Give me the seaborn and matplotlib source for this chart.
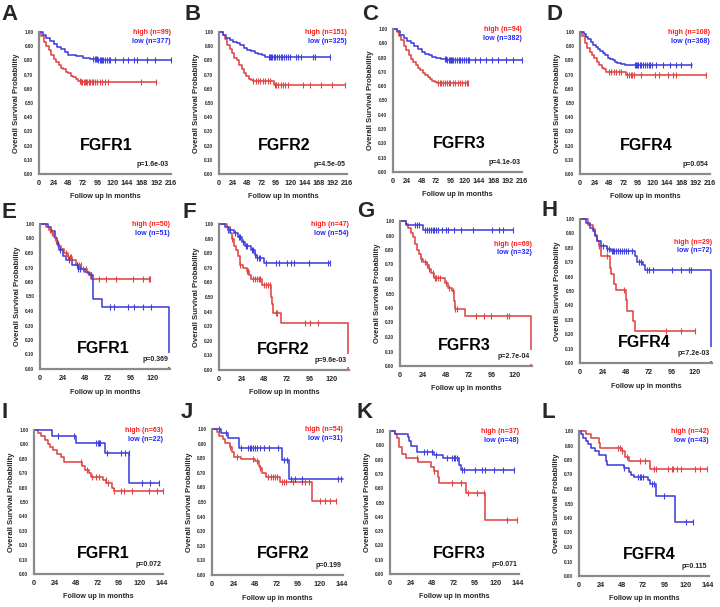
import numpy as np
import matplotlib
matplotlib.use("Agg")
import matplotlib.pyplot as plt
import seaborn as sns

# ---- panel labels / annotations ----
letters = ["A", "B", "C", "D", "E", "F", "G", "H", "I", "J", "K", "L"]
genes = ["FGFR1", "FGFR2", "FGFR3", "FGFR4"] * 3
n_high = [99, 151, 94, 108, 50, 47, 69, 29, 63, 54, 37, 42]
n_low = [377, 325, 382, 368, 51, 54, 32, 72, 22, 31, 48, 43]
p_values = ["p=1.6e-03", "p=4.5e-05", "p=4.1e-03", "p=0.054",
            "p=0.369", "p=9.6e-03", "p=2.7e-04", "p=7.2e-03",
            "p=0.072", "p=0.199", "p=0.071", "p=0.115"]

# ---- Kaplan-Meier step data (time in months, survival after step) ----
a_hi_t = [0, 4, 8, 12, 16, 20, 24, 28, 32, 36, 40, 44, 48, 52, 56, 60, 64, 68, 192]
a_hi_s = [1, 0.97, 0.93, 0.90, 0.87, 0.84, 0.81, 0.79, 0.77, 0.75, 0.74, 0.72, 0.71, 0.69, 0.68, 0.67, 0.655, 0.645, 0.645]
a_hi_c = [67, 69, 71, 73, 75, 77, 79, 81, 84, 86, 89, 92, 95, 99, 103, 108, 113, 167, 192]
a_lo_t = [0, 6, 12, 18, 24, 30, 36, 42, 48, 54, 60, 72, 84, 96, 216]
a_lo_s = [1, 0.98, 0.955, 0.935, 0.915, 0.895, 0.88, 0.86, 0.84, 0.835, 0.83, 0.82, 0.81, 0.80, 0.80]
a_lo_c = [89, 91, 93, 95, 97, 99, 101, 103, 105, 108, 111, 114, 116, 124, 137, 146, 155, 161, 176, 190, 216]

b_hi_t = [0, 6, 10, 14, 18, 22, 26, 30, 34, 38, 42, 46, 50, 54, 58, 88, 92, 212]
b_hi_s = [1, 0.98, 0.95, 0.91, 0.88, 0.85, 0.82, 0.80, 0.77, 0.74, 0.71, 0.69, 0.67, 0.66, 0.655, 0.655, 0.625, 0.625]
b_hi_c = [58, 62, 66, 70, 74, 78, 82, 86, 94, 97, 100, 104, 108, 112, 116, 141, 153, 172, 191, 212]
b_lo_t = [0, 6, 12, 18, 24, 30, 36, 42, 48, 54, 60, 66, 72, 78, 188]
b_lo_s = [1, 0.98, 0.96, 0.945, 0.93, 0.92, 0.905, 0.89, 0.875, 0.865, 0.855, 0.845, 0.835, 0.825, 0.825]
b_lo_c = [84, 86, 88, 90, 92, 95, 98, 101, 104, 107, 110, 113, 116, 119, 130, 134, 138, 158, 162, 188]

c_hi_t = [0, 6, 10, 14, 18, 22, 26, 30, 34, 38, 42, 46, 50, 54, 58, 62, 66, 70, 74, 126]
c_hi_s = [1, 0.98, 0.95, 0.92, 0.88, 0.85, 0.82, 0.79, 0.77, 0.75, 0.73, 0.71, 0.69, 0.68, 0.665, 0.65, 0.635, 0.63, 0.62, 0.62]
c_hi_c = [76, 78, 81, 84, 87, 90, 93, 96, 100, 104, 108, 112, 116, 120, 124, 126]
c_lo_t = [0, 6, 12, 18, 24, 30, 36, 42, 48, 54, 60, 66, 72, 80, 90, 216]
c_lo_s = [1, 0.985, 0.96, 0.935, 0.915, 0.90, 0.88, 0.86, 0.84, 0.825, 0.815, 0.805, 0.80, 0.79, 0.78, 0.78]
c_lo_c = [87, 89, 91, 93, 95, 97, 99, 101, 104, 107, 110, 113, 116, 119, 122, 125, 128, 137, 146, 155, 165, 175, 190, 201, 216]

d_hi_t = [0, 4, 8, 12, 16, 20, 24, 28, 32, 36, 40, 44, 76, 210]
d_hi_s = [1, 0.97, 0.92, 0.89, 0.86, 0.84, 0.82, 0.79, 0.77, 0.75, 0.74, 0.72, 0.70, 0.70]
d_hi_c = [48, 52, 56, 60, 64, 68, 78, 81, 84, 87, 90, 101, 125, 131, 146, 154, 160, 210]
d_lo_t = [0, 6, 10, 14, 18, 22, 26, 30, 34, 38, 42, 46, 50, 54, 58, 62, 68, 74, 90, 186]
d_lo_s = [1, 0.985, 0.965, 0.95, 0.93, 0.91, 0.895, 0.88, 0.865, 0.85, 0.835, 0.82, 0.81, 0.80, 0.79, 0.78, 0.775, 0.77, 0.765, 0.765]
d_lo_c = [91, 93, 95, 97, 99, 102, 105, 108, 111, 114, 117, 120, 127, 138, 150, 160, 168, 185]

e_hi_t = [0, 6, 10, 13, 15, 17, 19, 22, 26, 30, 34, 38, 44, 50, 54, 117]
e_hi_s = [1, 0.98, 0.96, 0.94, 0.91, 0.88, 0.85, 0.83, 0.80, 0.77, 0.75, 0.72, 0.69, 0.66, 0.62, 0.62]
e_hi_c = [11, 13, 16, 17, 28, 30, 32, 33, 39, 41, 43, 46, 49, 63, 70, 81, 99, 109, 116, 117]
e_lo_t = [0, 8, 12, 16, 18, 20, 24, 28, 34, 40, 48, 52, 56, 66, 137, 137]
e_lo_s = [1, 0.98, 0.95, 0.90, 0.86, 0.82, 0.78, 0.75, 0.72, 0.69, 0.67, 0.65, 0.485, 0.43, 0.43, 0.0]
e_lo_c = [19, 21, 31, 39, 40, 42, 54, 74, 79, 93, 100, 109, 118]

f_hi_t = [0, 8, 12, 14, 16, 18, 20, 22, 26, 30, 32, 34, 46, 55, 56, 57, 66, 137, 137]
f_hi_s = [1, 0.98, 0.94, 0.90, 0.85, 0.82, 0.78, 0.72, 0.70, 0.68, 0.65, 0.62, 0.58, 0.50, 0.45, 0.39, 0.325, 0.325, 0.0]
f_hi_c = [14, 22, 30, 31, 36, 38, 40, 42, 44, 48, 50, 52, 54, 60, 62, 91, 97, 105]
f_lo_t = [0, 6, 10, 16, 20, 24, 28, 34, 38, 40, 48, 118]
f_lo_s = [1, 0.98, 0.96, 0.94, 0.91, 0.88, 0.85, 0.82, 0.79, 0.77, 0.73, 0.73]
f_lo_c = [10, 12, 17, 21, 22, 25, 29, 30, 35, 36, 38, 40, 42, 44, 50, 60, 64, 72, 76, 80, 96, 116, 118]

g_hi_t = [0, 6, 8, 12, 14, 16, 18, 20, 22, 24, 28, 30, 32, 36, 40, 47, 50, 54, 56, 57, 68, 137, 137]
g_hi_s = [1, 0.98, 0.95, 0.92, 0.89, 0.84, 0.80, 0.77, 0.74, 0.72, 0.70, 0.67, 0.64, 0.61, 0.605, 0.57, 0.54, 0.52, 0.45, 0.39, 0.345, 0.345, 0.0]
g_hi_c = [22, 26, 28, 30, 34, 37, 38, 40, 42, 48, 51, 55, 58, 60, 79, 88, 95, 112, 114]
g_lo_t = [0, 6, 24, 118]
g_lo_s = [1, 0.97, 0.935, 0.935]
g_lo_c = [16, 18, 20, 26, 28, 30, 32, 34, 36, 38, 40, 44, 48, 50, 56, 64, 76, 96, 104, 108, 118]

h_hi_t = [0, 8, 14, 16, 18, 20, 22, 31, 32, 36, 38, 48, 49, 55, 57, 120]
h_hi_s = [1, 0.96, 0.93, 0.89, 0.85, 0.81, 0.74, 0.66, 0.62, 0.55, 0.51, 0.44, 0.36, 0.29, 0.22, 0.22]
h_hi_c = [20, 28, 46, 90, 106, 120]
h_lo_t = [0, 6, 10, 14, 16, 18, 22, 28, 32, 57, 60, 66, 68, 137, 137]
h_lo_s = [1, 0.97, 0.94, 0.92, 0.88, 0.85, 0.81, 0.79, 0.78, 0.74, 0.70, 0.68, 0.645, 0.645, 0.0]
h_lo_c = [24, 28, 30, 33, 34, 36, 38, 40, 42, 44, 46, 48, 50, 54, 62, 64, 70, 72, 76, 96, 106, 114, 116]

i_hi_t = [0, 4, 8, 12, 16, 18, 22, 26, 30, 34, 54, 58, 62, 64, 78, 82, 88, 90, 146]
i_hi_s = [1, 0.98, 0.955, 0.93, 0.905, 0.88, 0.86, 0.83, 0.81, 0.78, 0.75, 0.72, 0.70, 0.675, 0.65, 0.635, 0.595, 0.575, 0.575]
i_hi_c = [53, 60, 66, 70, 73, 81, 84, 90, 99, 102, 111, 130, 139, 146]
i_lo_t = [0, 20, 48, 80, 108, 142]
i_lo_s = [1, 0.955, 0.91, 0.843, 0.63, 0.63]
i_lo_c = [27, 45, 70, 72, 74, 75, 83, 99, 103, 107, 122, 131, 141]

j_hi_t = [0, 6, 8, 12, 14, 20, 22, 24, 32, 48, 52, 54, 56, 60, 76, 112, 138]
j_hi_s = [1, 0.98, 0.955, 0.93, 0.905, 0.88, 0.84, 0.81, 0.795, 0.78, 0.75, 0.73, 0.70, 0.67, 0.635, 0.505, 0.505]
j_hi_c = [20, 28, 46, 50, 54, 62, 66, 68, 70, 72, 78, 80, 82, 90, 100, 104, 108, 120, 126, 132, 138]
j_lo_t = [0, 10, 18, 30, 78, 86, 146]
j_lo_s = [1, 0.97, 0.94, 0.87, 0.79, 0.66, 0.66]
j_lo_c = [8, 16, 32, 40, 42, 44, 46, 48, 50, 54, 58, 64, 74, 80, 84, 88, 92, 100, 140, 144]

k_hi_t = [0, 6, 8, 10, 14, 18, 32, 46, 50, 54, 56, 86, 108, 144]
k_hi_s = [1, 0.98, 0.95, 0.89, 0.84, 0.81, 0.78, 0.75, 0.72, 0.68, 0.635, 0.565, 0.375, 0.375]
k_hi_c = [30, 50, 70, 80, 88, 98, 106, 132, 144]
k_lo_t = [0, 6, 20, 22, 24, 30, 50, 60, 78, 80, 140]
k_lo_s = [1, 0.98, 0.96, 0.93, 0.895, 0.855, 0.83, 0.81, 0.76, 0.725, 0.725]
k_lo_c = [38, 42, 48, 52, 64, 70, 72, 74, 76, 82, 84, 96, 104, 108, 118, 128, 140]

l_hi_t = [0, 8, 14, 22, 24, 48, 52, 56, 80, 144]
l_hi_s = [1, 0.98, 0.95, 0.92, 0.88, 0.86, 0.82, 0.795, 0.74, 0.74]
l_hi_c = [44, 46, 48, 54, 68, 74, 84, 86, 100, 104, 106, 110, 114, 130, 136, 144]
l_lo_t = [0, 2, 4, 8, 10, 14, 18, 22, 30, 32, 50, 56, 58, 62, 78, 80, 86, 108, 128]
l_lo_s = [1, 0.98, 0.95, 0.93, 0.91, 0.88, 0.86, 0.835, 0.79, 0.765, 0.745, 0.72, 0.70, 0.685, 0.66, 0.635, 0.555, 0.37, 0.37]
l_lo_c = [50, 66, 68, 70, 72, 82, 84, 96, 120, 128]

high_curves = [(a_hi_t, a_hi_s, a_hi_c), (b_hi_t, b_hi_s, b_hi_c), (c_hi_t, c_hi_s, c_hi_c), (d_hi_t, d_hi_s, d_hi_c),
               (e_hi_t, e_hi_s, e_hi_c), (f_hi_t, f_hi_s, f_hi_c), (g_hi_t, g_hi_s, g_hi_c), (h_hi_t, h_hi_s, h_hi_c),
               (i_hi_t, i_hi_s, i_hi_c), (j_hi_t, j_hi_s, j_hi_c), (k_hi_t, k_hi_s, k_hi_c), (l_hi_t, l_hi_s, l_hi_c)]
low_curves = [(a_lo_t, a_lo_s, a_lo_c), (b_lo_t, b_lo_s, b_lo_c), (c_lo_t, c_lo_s, c_lo_c), (d_lo_t, d_lo_s, d_lo_c),
              (e_lo_t, e_lo_s, e_lo_c), (f_lo_t, f_lo_s, f_lo_c), (g_lo_t, g_lo_s, g_lo_c), (h_lo_t, h_lo_s, h_lo_c),
              (i_lo_t, i_lo_s, i_lo_c), (j_lo_t, j_lo_s, j_lo_c), (k_lo_t, k_lo_s, k_lo_c), (l_lo_t, l_lo_s, l_lo_c)]

# ---- layout (pixels in the 720x607 figure: left, top, right, bottom of axes) ----
boxes = [(39, 32, 171, 174), (219, 32, 347, 174), (393, 29, 522, 172), (580, 32, 710, 174),
         (40, 224, 170, 369), (219, 224, 349, 370), (400, 221, 532, 366), (580, 219, 712, 363),
         (34, 430, 163, 574), (212, 429, 343, 575), (390, 431, 519, 574), (579, 431, 709, 576)]
letter_pos = [(9, 15), (193, 15), (370, 15), (555, 15),
              (9, 212), (189, 212), (366, 211), (550, 210),
              (5, 412), (187, 412), (365, 412), (548, 413)]

RED = "#e04545"
BLUE = "#4040dd"
RED_TXT = "#ff1a1a"
BLUE_TXT = "#2222ff"
GRAY = "#8a8a8a"

sns.set_theme(style="white")
plt.rcParams["font.family"] = ["Liberation Sans", "DejaVu Sans"]

W, H = 720, 607
fig = plt.figure(figsize=(W / 100, H / 100), dpi=100)


def surv_at(times, levels, t):
    idx = np.searchsorted(times, t, side="right") - 1
    return [levels[min(i, len(levels) - 1)] for i in np.atleast_1d(idx)]


def draw_curve(ax, curve, color):
    t, s, c = curve
    sns.lineplot(x=t, y=s, ax=ax, color=color, linewidth=1.15, estimator=None,
                 sort=False, drawstyle="steps-post", clip_on=False)
    # censor ticks sit on the curve
    cy = surv_at(np.array(t), s, np.array(c))
    sns.scatterplot(x=c, y=cy, ax=ax, marker="|", s=18, linewidth=0.8,
                    color=color, clip_on=False, zorder=3)


for i in range(12):
    l, t, r, b = boxes[i]
    ax = fig.add_axes([l / W, 1 - b / H, (r - l) / W, (b - t) / H])
    row = i // 4

    draw_curve(ax, high_curves[i], RED)
    draw_curve(ax, low_curves[i], BLUE)

    if row == 0:
        ax.set_xlim(0, 216)
        ax.set_xticks(np.arange(0, 217, 24))
    elif row == 1:
        ax.set_xlim(0, 138)
        ax.set_xticks(np.arange(0, 121, 24))
    else:
        ax.set_xlim(0, 146)
        ax.set_xticks(np.arange(0, 145, 24))
    ax.set_ylim(0, 1.0)
    ax.set_yticks(np.arange(0, 1.01, 0.1))
    ax.set_yticklabels([f"{v:.2f}" for v in np.arange(0, 1.01, 0.1)])

    for side in ["top", "right"]:
        ax.spines[side].set_visible(False)
    for side in ["left", "bottom"]:
        ax.spines[side].set_color(GRAY)
        ax.spines[side].set_linewidth(1.6)
    ax.tick_params(axis="x", length=2, width=0.8, color=GRAY, labelsize=5.2, pad=2)
    ax.tick_params(axis="y", length=2, width=0.6, color=GRAY, labelsize=3.3, pad=2)
    for lab in ax.get_xticklabels() + ax.get_yticklabels():
        lab.set_fontweight("bold")

    ax.set_xlabel("Follow up in months", fontsize=5.2, fontweight="bold", labelpad=5)
    ax.set_ylabel("Overall Survival Probability", fontsize=5.5, fontweight="bold", labelpad=3)

    if i in (6, 7):
        hy, ly = 0.84, 0.78
    else:
        hy, ly = 0.995, 0.935
    ax.text(1.0, hy, f"high (n={n_high[i]})", transform=ax.transAxes, ha="right", va="center",
            color=RED_TXT, fontsize=5, fontweight="bold")
    ax.text(1.0, ly, f"low (n={n_low[i]})", transform=ax.transAxes, ha="right", va="center",
            color=BLUE_TXT, fontsize=5, fontweight="bold")

    gy = [0.2, 0.14, 0.145][row]
    gx = [0.51, 0.49, 0.54][row]
    ax.text(gx, gy, genes[i], transform=ax.transAxes, ha="center", va="center",
            fontsize=11.5, fontweight="bold", color="black")
    ax.text(0.985, 0.065, p_values[i], transform=ax.transAxes, ha="right", va="center",
            fontsize=5, fontweight="bold", color="#222222", zorder=5,
            bbox=dict(facecolor="white", edgecolor="none", pad=2.5))

    lx, ly_ = letter_pos[i]
    fig.text(lx / W, 1 - ly_ / H, letters[i], ha="center", va="center",
             fontsize=16, fontweight="bold")

fig.savefig("out.png", dpi=100)
